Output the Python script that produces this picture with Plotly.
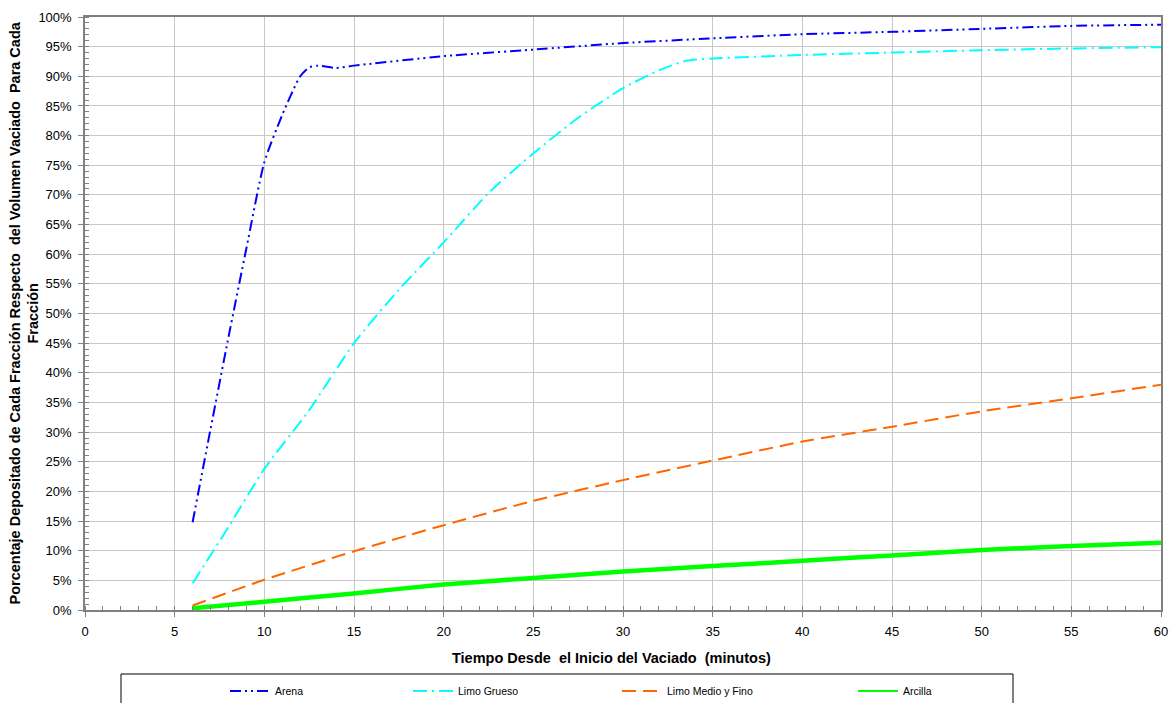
import plotly.graph_objects as go

# ---- data ----
arena_x = [6, 7, 8, 9, 10, 11, 12, 12.5, 13, 14, 15, 20, 25, 30, 35, 40, 45, 50, 55, 60]
arena_y = [14.8, 30.5, 46, 61, 75.5, 83.5, 90, 91.5, 91.8, 91.4, 91.8, 93.4, 94.5, 95.6, 96.4, 97.1, 97.5, 98.0, 98.5, 98.7]

grueso_x = [6, 8, 10, 12.5, 15, 17.5, 20, 22.5, 25, 27.5, 30, 32, 33.5, 35, 40, 45, 50, 55, 60]
grueso_y = [4.5, 14, 23.8, 33.7, 45, 54, 62, 70.3, 77, 83, 88, 91, 92.6, 93.0, 93.6, 94.0, 94.4, 94.7, 94.9]

medio_x = [6, 10, 15, 20, 25, 30, 35, 40, 45, 50, 55, 60]
medio_y = [0.75, 5.1, 9.9, 14.3, 18.4, 21.9, 25.2, 28.4, 30.9, 33.5, 35.7, 38.0]

arcilla_x = [6, 10, 15, 20, 25, 30, 35, 40, 45, 50, 55, 60]
arcilla_y = [0.3, 1.4, 2.8, 4.3, 5.4, 6.5, 7.4, 8.3, 9.2, 10.1, 10.8, 11.35]

names = ["Arena", "Limo Grueso", "Limo Medio y Fino", "Arcilla"]
x_ticks = list(range(0, 61, 5))
y_ticks = list(range(0, 101, 5))

FONT = "Liberation Sans, Arial, sans-serif"

fig = go.Figure()
fig.add_trace(go.Scatter(x=arena_x, y=arena_y, name=names[0], mode="lines", legendwidth=128,
                         line=dict(color="#0000FF", width=2, dash="11px,4px,2px,4px,2px,4px",
                                   shape="spline", smoothing=0.6)))
fig.add_trace(go.Scatter(x=grueso_x, y=grueso_y, name=names[1], mode="lines", legendwidth=154,
                         line=dict(color="#00FFFF", width=2, dash="14px,5px,2px,5px",
                                   shape="spline", smoothing=0.6)))
fig.add_trace(go.Scatter(x=medio_x, y=medio_y, name=names[2], mode="lines", legendwidth=181,
                         line=dict(color="#FF6600", width=2, dash="14px,7px",
                                   shape="spline", smoothing=0.6)))
fig.add_trace(go.Scatter(x=arcilla_x, y=arcilla_y, name=names[3], mode="lines",
                         showlegend=False, legendgroup="arcilla",
                         line=dict(color="#00FF00", width=4.5,
                                   shape="spline", smoothing=0.6)))
# legend entry for Arcilla drawn with a thinner sample line, as in the reference legend
fig.add_trace(go.Scatter(x=[None], y=[None], name=names[3], mode="lines", legendwidth=80,
                         legendgroup="arcilla",
                         line=dict(color="#00FF00", width=2)))

fig.update_layout(
    width=1169, height=703,
    margin=dict(l=85, r=8, t=17, b=93, autoexpand=False),
    paper_bgcolor="white", plot_bgcolor="white",
    font=dict(family=FONT, size=12, color="black"),
    showlegend=True,
    legend=dict(orientation="h", x=(235 - 85) / 1076 - 0.0093, y=-0.112, xanchor="left", yanchor="top",
                bgcolor="rgba(0,0,0,0)", borderwidth=0,
                font=dict(family=FONT, size=10.5, color="black"),
                itemwidth=40, tracegroupgap=0),
    shapes=[dict(type="rect", xref="paper", yref="paper",
                 x0=(121 - 85) / 1076, x1=(1013 - 85) / 1076,
                 y0=(610 - 720) / 593, y1=(610 - 674) / 593,
                 line=dict(color="black", width=1), fillcolor="rgba(0,0,0,0)")],
    annotations=[
        dict(text="<b>Porcentaje Depositado de Cada Fracción Respecto  del Volumen Vaciado  Para Cada<br>Fracción</b>",
             xref="paper", yref="paper", x=(24 - 85) / 1076, y=0.5,
             xanchor="center", yanchor="middle", textangle=-90, showarrow=False,
             font=dict(family=FONT, size=14.5, color="black")),
        dict(text="<b>Tiempo Desde  el Inicio del Vaciado  (minutos)</b>",
             xref="paper", yref="paper", x=(611 - 85) / 1076, y=(610 - 658) / 593,
             xanchor="center", yanchor="middle", showarrow=False,
             font=dict(family=FONT, size=14.5, color="black")),
    ],
)

fig.update_xaxes(range=[0, 60], tickvals=x_ticks, ticktext=[str(v) for v in x_ticks],
                 automargin=False, ticklabeloverflow="allow",
                 showgrid=True, gridcolor="#C8C8C8", gridwidth=1,
                 showline=True, linecolor="#808080", linewidth=1.5, mirror=True,
                 ticks="outside", ticklen=5, tickcolor="#808080", ticklabelstandoff=4,
                 minor=dict(dtick=1, ticks="inside", ticklen=4, tickcolor="#808080", showgrid=False),
                 zeroline=False, tickfont=dict(size=13, family=FONT))
fig.update_yaxes(range=[0, 100], tickvals=y_ticks, ticktext=[f"{v}%" for v in y_ticks],
                 automargin=False, ticklabeloverflow="allow",
                 showgrid=True, gridcolor="#C8C8C8", gridwidth=1,
                 showline=True, linecolor="#808080", linewidth=1.5, mirror=True,
                 ticks="outside", ticklen=5, tickcolor="#808080", ticklabelstandoff=4,
                 minor=dict(dtick=1, ticks="inside", ticklen=4, tickcolor="#808080", showgrid=False),
                 zeroline=False, tickfont=dict(size=13, family=FONT))

# remove the browser's default 8px page margin and scrollbars so the figure sits at (0, 0)
page_fix = ("document.body.style.margin='0';"
            "document.body.style.overflow='hidden';"
            "document.documentElement.style.overflow='hidden';")
fig.write_html("out.html", post_script=page_fix, config={"displayModeBar": False})
